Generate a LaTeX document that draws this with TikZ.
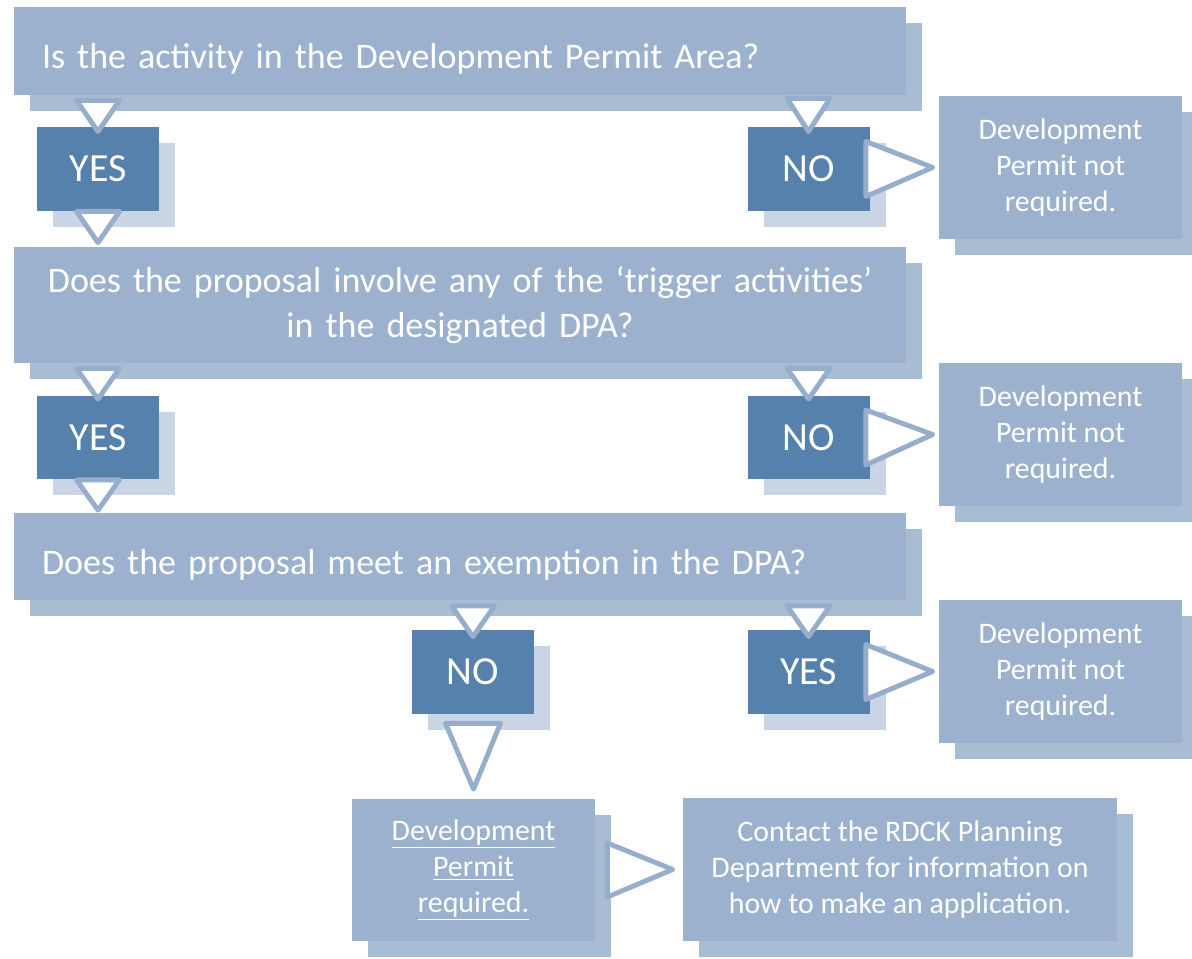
\documentclass[tikz,border=0pt]{standalone}
\usepackage{fontspec}
\setmainfont{Carlito}
\usetikzlibrary{calc,shadows}
\definecolor{boxblue}{HTML}{9BB1CE}
\definecolor{boxshade}{HTML}{A8BDD3}
\definecolor{ansblue}{HTML}{5581AC}
\definecolor{ansshade}{HTML}{C9D5E4}
\definecolor{triline}{HTML}{96AECB}
\tikzset{
  question/.style={fill=boxblue, text=white, inner xsep=0.56cm, inner ysep=0pt,
    minimum width=17.84cm, text width=16.72cm,
    font=\fontsize{20.5}{25.5}\selectfont,
    drop shadow={shadow xshift=0.32cm, shadow yshift=-0.32cm, fill=boxshade, opacity=1}},
  answer/.style={fill=ansblue, text=white, inner sep=0pt,
    minimum width=2.44cm, minimum height=1.68cm,
    font=\fontsize{22.7}{27}\selectfont,
    drop shadow={shadow xshift=0.32cm, shadow yshift=-0.32cm, fill=ansshade, opacity=1}},
  result/.style={fill=boxblue, text=white, inner sep=0pt, align=center,
    minimum width=4.86cm, minimum height=2.86cm,
    font=\fontsize{17}{20.4}\selectfont,
    drop shadow={shadow xshift=0.32cm, shadow yshift=-0.32cm, fill=boxshade, opacity=1}},
  tri/.style={draw=triline, fill=white, line width=2.8pt, line join=round},
}

\begin{document}
\begin{tikzpicture}[x=0.02cm, y=-0.02cm]
\useasboundingbox (0,0) rectangle (1192,959);
% Questions:
\node (q1) [question, minimum height=1.76cm, align=left, text height=0.72cm, text depth=0pt] at (460,51) {Is the activity in the Development Permit Area?};
\node (q2) [question, minimum height=2.32cm, align=center] at (460,305) {Does the proposal involve any of the ‘trigger activities’\\in the designated DPA?};
\node (q3) [question, minimum height=1.76cm, align=left, text height=0.72cm, text depth=0pt] at (460,556.5) {Does the proposal meet an exemption in the DPA?};
% Answers:
\node (yes1) [answer] at (98,169) {YES};
\node (no1) [answer] at (808.5,169) {NO};
\node (yes2) [answer] at (98,437.5) {YES};
\node (no2) [answer] at (808.5,437.5) {NO};
\node (no3) [answer] at (473,672) {NO};
\node (yes3) [answer] at (808.5,672) {YES};
% Results:
\node (r1) [result] at (1060.5,167.5) {Development\\Permit not\\required.};
\node (r2) [result] at (1060.5,434.5) {Development\\Permit not\\required.};
\node (r3) [result] at (1060.5,671.5) {Development\\Permit not\\required.};
\node (req) [result] at (473.5,870) {\underline{Development}\\\underline{Permit}\\\underline{required.}};
\node (contact) [result, minimum width=8.68cm] at (900,869.5) {Contact the RDCK Planning\\Department for information on\\how to make an application.};
% Down triangles:
\draw[tri] ($(q1.south -| yes1)+(-21.5,5)$) -- ++(43,0) -- ($(yes1.north)+(0,5)$) -- cycle;
\draw[tri] ($(q1.south -| no1)+(-21.5,3)$) -- ++(43,0) -- ($(no1.north)+(0,5)$) -- cycle;
\draw[tri] ($(yes1.south)+(-21.5,0)$) -- ++(43,0) -- ($(q2.north -| yes1)+(0,-4)$) -- cycle;
\draw[tri] ($(q2.south -| yes2)+(-21.5,5)$) -- ++(43,0) -- ($(yes2.north)+(0,4)$) -- cycle;
\draw[tri] ($(q2.south -| no2)+(-21.5,5)$) -- ++(43,0) -- ($(no2.north)+(0,4)$) -- cycle;
\draw[tri] ($(yes2.south)+(-21.5,0)$) -- ++(43,0) -- ($(q3.north -| yes2)+(0,-2)$) -- cycle;
\draw[tri] ($(q3.south -| no3)+(-21.5,5)$) -- ++(43,0) -- ($(no3.north)+(0,7)$) -- cycle;
\draw[tri] ($(q3.south -| yes3)+(-21.5,5)$) -- ++(43,0) -- ($(yes3.north)+(0,7)$) -- cycle;
\draw[tri] ($(no3.south)+(-27.5,9)$) -- ++(55,0) -- ($(req.north)+(0,-9)$) -- cycle;
% Right triangles:
\draw[tri] ($(no1.east)+(-4,-27.5)$) -- ++(0,55) -- ($(r1.west)+(-6,0)$) -- cycle;
\draw[tri] ($(no2.east)+(-4,-27.5)$) -- ++(0,55) -- ($(r2.west)+(-6,0)$) -- cycle;
\draw[tri] ($(yes3.east)+(-4,-27.5)$) -- ++(0,55) -- ($(r3.west)+(-6,0)$) -- cycle;
\draw[tri] ($(req.east)+(12,-27)$) -- ++(0,54) -- ($(contact.west)+(-10,0)$) -- cycle;
\end{tikzpicture}
\end{document}
